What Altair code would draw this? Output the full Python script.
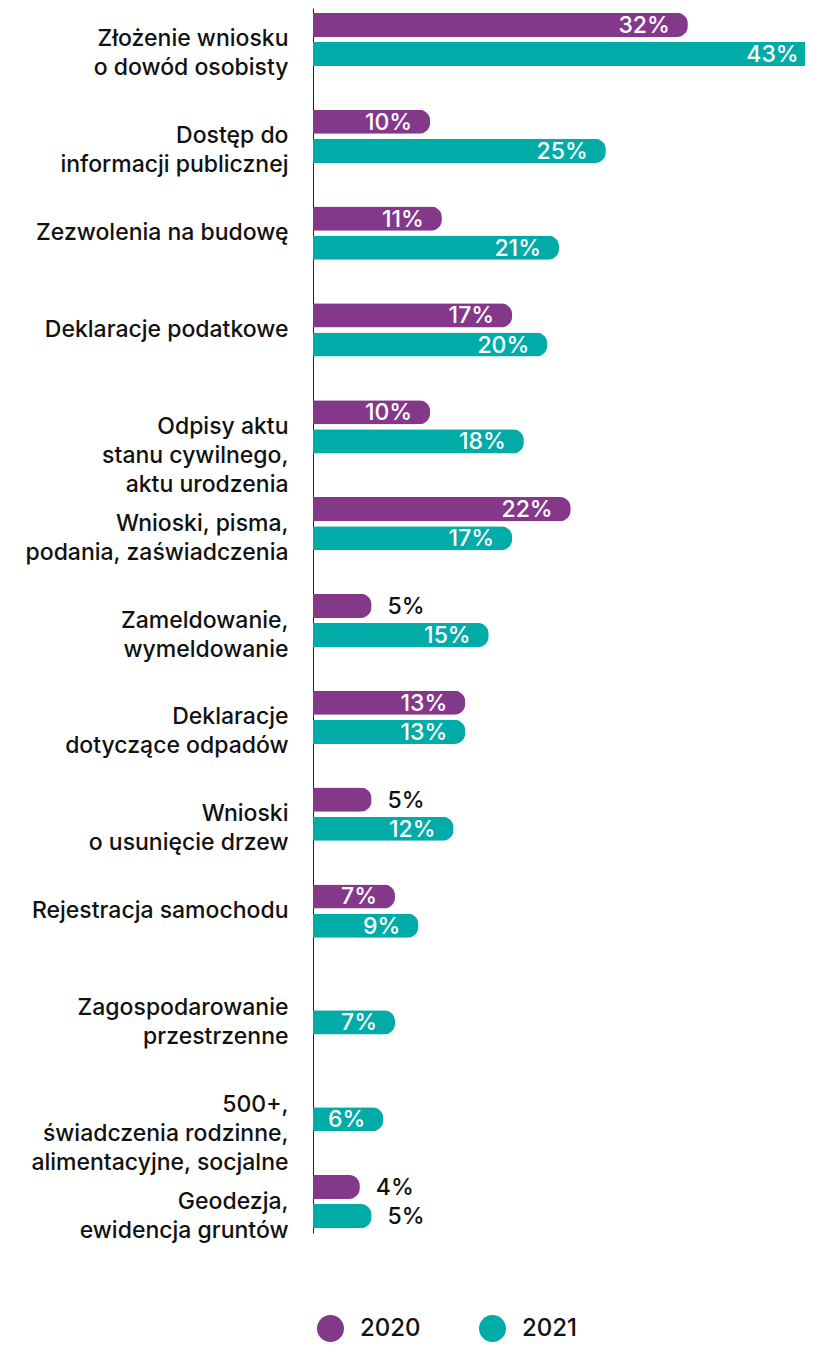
import altair as alt
import pandas as pd

categories = [
    "Złożenie wniosku|o dowód osobisty",
    "Dostęp do|informacji publicznej",
    "Zezwolenia na budowę",
    "Deklaracje podatkowe",
    "Odpisy aktu|stanu cywilnego,|aktu urodzenia",
    "Wnioski, pisma,|podania, zaświadczenia",
    "Zameldowanie,|wymeldowanie",
    "Deklaracje|dotyczące odpadów",
    "Wnioski|o usunięcie drzew",
    "Rejestracja samochodu",
    "Zagospodarowanie|przestrzenne",
    "500+,|świadczenia rodzinne,|alimentacyjne, socjalne",
    "Geodezja,|ewidencja gruntów",
]
values_2020 = [32, 10, 11, 17, 10, 22, 5, 13, 5, 7, None, None, 4]
values_2021 = [43, 25, 21, 20, 18, 17, 15, 13, 12, 9, 7, 6, 5]
years = ["2020", "2021"]
colors = ["#84388A", "#00ABA8"]

rows = []
for cat, a, b in zip(categories, values_2020, values_2021):
    if a is not None:
        rows.append({"cat": cat, "year": "2020", "value": a})
    if b is not None:
        rows.append({"cat": cat, "year": "2021", "value": b})
df = pd.DataFrame(rows)
df["label"] = df["value"].astype(int).astype(str) + "%"

FONT = "Inter"
WEIGHT = 500

y_enc = alt.Y(
    "cat:N",
    sort=categories,
    scale=alt.Scale(paddingInner=0.45, paddingOuter=0.05),
    axis=alt.Axis(
        title=None,
        labelExpr="split(datum.label, '|')",
        labelFontSize=23,
        labelFont=FONT,
        labelFontWeight=WEIGHT,
        labelColor="#111111",
        labelLineHeight=29,
        labelLimit=0,
        labelPadding=25,
        ticks=False,
        grid=False,
        domain=True,
        domainColor="#222222",
        domainWidth=1,
    ),
)
yoff = alt.YOffset("year:N", sort=years, scale=alt.Scale(paddingInner=0.17, paddingOuter=0))
x_enc = alt.X("value:Q", scale=alt.Scale(domain=[0, 42], nice=False, zero=True), axis=None)

base = alt.Chart(df)

bars = base.mark_bar(cornerRadiusEnd=11).encode(
    x=x_enc,
    y=y_enc,
    yOffset=yoff,
    color=alt.Color(
        "year:N",
        sort=years,
        scale=alt.Scale(domain=years, range=colors),
        legend=alt.Legend(
            title=None,
            orient="none",
            direction="horizontal",
            legendX=4,
            legendY=1307,
            symbolType="circle",
            symbolSize=729,
            symbolStrokeWidth=0,
            symbolOpacity=1,
            labelFontSize=24,
            labelFont=FONT,
            labelFontWeight=WEIGHT,
            labelColor="#111111",
            labelOffset=16,
            columnPadding=58,
            padding=0,
        ),
    ),
)

inside = base.transform_filter("datum.value >= 6").mark_text(
    align="right", baseline="middle", dx=-18, dy=1, fontSize=23, font=FONT,
    fontWeight=WEIGHT, color="white"
).encode(x=x_enc, y=alt.Y("cat:N", sort=categories), yOffset=yoff, text="label:N")

outside = base.transform_filter("datum.value < 6").mark_text(
    align="left", baseline="middle", dx=16, dy=1, fontSize=23, font=FONT,
    fontWeight=WEIGHT, color="#111111"
).encode(x=x_enc, y=alt.Y("cat:N", sort=categories), yOffset=yoff, text="label:N")

chart = (
    alt.layer(bars, inside, outside)
    .properties(
        width=492,
        height=1225,
        autosize=alt.AutoSizeParams(type="none"),
        padding={"left": 305, "top": 0, "right": 0, "bottom": 110},
    )
    .configure_view(strokeWidth=0)
)

chart.save("out.html", embed_options={"renderer": "svg", "actions": False})
